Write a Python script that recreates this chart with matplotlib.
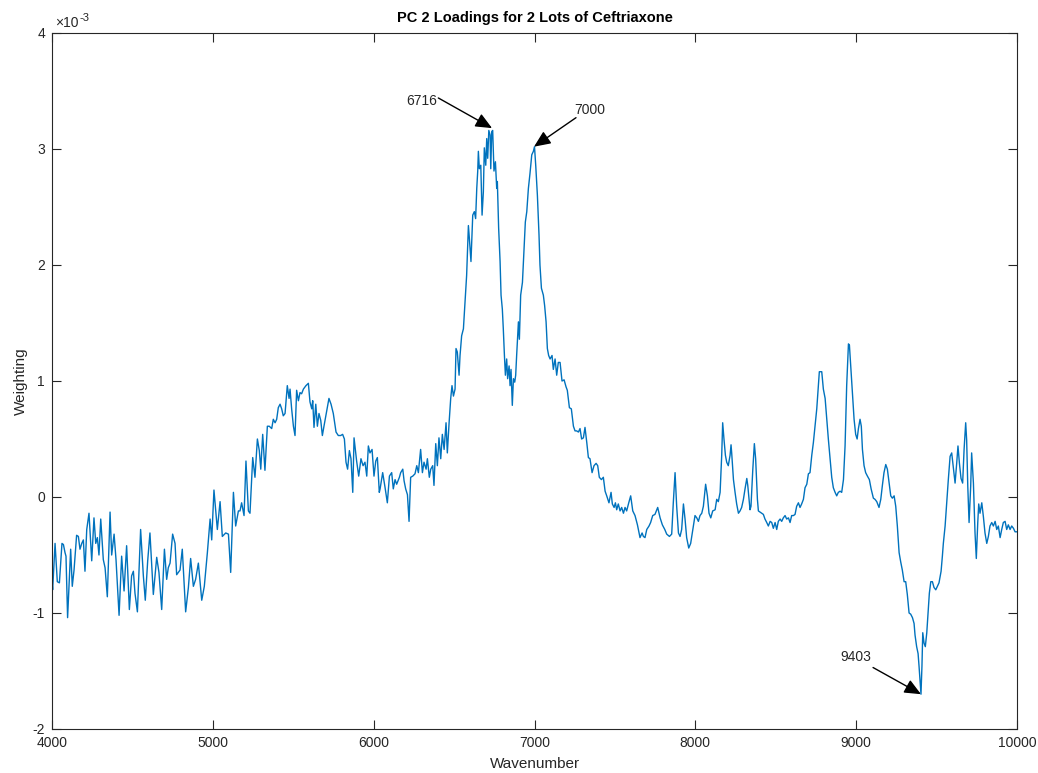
import matplotlib
matplotlib.use("Agg")
import matplotlib.pyplot as plt
import numpy as np

plt.rcParams['font.family'] = ['Liberation Sans', 'DejaVu Sans']
plt.rcParams['axes.unicode_minus'] = False

# ---- data (weighting in units of 1e-3) ----
wavenumber = [
    4000, 4004, 4019, 4033, 4046, 4062, 4071, 4081, 4087, 4097, 4116, 4126, 4137, 4153, 4164, 4174,
    4185, 4195, 4205, 4216, 4230, 4247, 4261, 4272, 4282, 4292, 4303, 4319, 4330, 4344, 4361, 4371,
    4386, 4398, 4417, 4433, 4448, 4464, 4481, 4495, 4506, 4516, 4531, 4551, 4568, 4580, 4595, 4609,
    4630, 4651, 4665, 4682, 4699, 4713, 4723, 4734, 4750, 4765, 4775, 4796, 4810, 4831, 4848, 4862,
    4879, 4893, 4910, 4931, 4947, 4966, 4983, 4993, 5007, 5028, 5045, 5059, 5080, 5097, 5111, 5128,
    5142, 5159,
    5169, 5179, 5194, 5206, 5221, 5231, 5248, 5262, 5277, 5289, 5298, 5310, 5324, 5339, 5351, 5366,
    5376, 5387, 5397, 5407, 5418, 5428, 5438, 5449, 5463, 5474, 5480, 5490, 5501, 5511, 5521, 5532,
    5542, 5552, 5563, 5579, 5594, 5604, 5615, 5621, 5629, 5640, 5650, 5660, 5671, 5681, 5691, 5708,
    5722, 5735, 5749, 5766, 5780, 5795, 5807, 5818, 5828, 5838, 5849, 5859, 5870, 5878, 5886, 5894,
    5907, 5921, 5934, 5946, 5957, 5967, 5977, 5990, 6002, 6013, 6023, 6035,
    6040, 6056, 6071, 6085, 6098, 6112, 6122, 6133, 6143, 6160, 6168, 6181, 6189, 6199, 6210, 6220,
    6230, 6243, 6257, 6268, 6278, 6292, 6303, 6313, 6326, 6334, 6346, 6355, 6367, 6375, 6386, 6396,
    6406, 6417, 6427, 6438, 6450, 6458, 6469, 6479, 6487, 6496, 6506, 6512, 6520, 6531, 6537, 6547,
    6558, 6568, 6578, 6589, 6595, 6605, 6616, 6626, 6634, 6641, 6647, 6651, 6657, 6666, 6674, 6682,
    6688, 6697, 6703, 6709, 6716, 6724, 6728, 6734, 6740, 6748, 6757, 6765, 6769, 6777, 6786, 6792,
    6800, 6806, 6813, 6819, 6827, 6833, 6842, 6848, 6854, 6862, 6869, 6877, 6883, 6889, 6900, 6906,
    6914, 6925, 6935, 6943, 6952, 6962, 6972, 6983, 6993, 7000, 7008, 7018, 7028, 7034, 7043, 7055,
    7063, 7072, 7080, 7088, 7097, 7109, 7117, 7128, 7138, 7148, 7159,
    7171, 7184, 7196, 7204, 7217, 7229, 7242, 7252, 7262, 7273, 7283, 7293, 7304, 7314, 7325, 7335,
    7345, 7358, 7370, 7383, 7393, 7403, 7416, 7428, 7439, 7449, 7463, 7476, 7484, 7495, 7503, 7511,
    7521, 7532, 7542, 7553, 7563, 7573, 7586, 7598, 7611, 7625, 7640, 7656, 7669, 7677, 7687, 7698,
    7712, 7722, 7735, 7749, 7766, 7781, 7795, 7810, 7822, 7839, 7853, 7863, 7874, 7884, 7895, 7905,
    7915, 7926, 7936, 7946, 7959, 7971, 7988, 7998, 8009, 8019, 8029, 8040, 8050, 8064, 8075, 8085,
    8096, 8108, 8123, 8133, 8143, 8154, 8164, 8170, 8178, 8187, 8195, 8205, 8216, 8222,
    8226, 8237, 8247, 8257, 8268, 8278, 8288, 8299, 8309, 8320, 8326, 8334, 8340, 8346, 8357, 8367,
    8375, 8386, 8392, 8402, 8413, 8423, 8433, 8444, 8454, 8465, 8475, 8485, 8496, 8506, 8516, 8527,
    8537, 8547, 8558, 8568, 8579, 8589, 8599, 8610, 8620, 8630, 8641, 8651, 8661, 8672, 8682, 8693,
    8703, 8713, 8724, 8734, 8744, 8755, 8765, 8771, 8786, 8796, 8807, 8817, 8827, 8838, 8848, 8858,
    8869, 8879, 8889, 8900, 8910, 8921, 8931, 8941, 8952, 8958, 8966, 8977, 8987, 8997, 9006, 9014,
    9024, 9032, 9039, 9049, 9059, 9070, 9082, 9093, 9107, 9117, 9128, 9142, 9153, 9163, 9173, 9184,
    9194, 9205, 9215, 9225, 9236, 9246, 9256, 9267,
    9277, 9287, 9298, 9308, 9318, 9329, 9339, 9350, 9360, 9366, 9376, 9385, 9391, 9403, 9409, 9414,
    9422, 9430, 9439, 9447, 9455, 9464, 9474, 9484, 9495, 9505, 9515, 9528, 9536, 9542, 9553, 9563,
    9573, 9584, 9594, 9604, 9615, 9625, 9633, 9642, 9652, 9662, 9671, 9681, 9687, 9694, 9702, 9712,
    9718, 9729, 9739, 9747, 9756, 9762, 9770, 9781, 9791, 9801, 9812, 9822, 9832, 9843, 9853, 9864,
    9874, 9884, 9895, 9905, 9915, 9926, 9936, 9946, 9957, 9967, 9978, 9988, 10000,
]
weighting = [
    -0.73, -0.80, -0.40, -0.73, -0.74, -0.40, -0.41, -0.48, -0.51, -1.04, -0.45, -0.77, -0.63, -0.33, -0.34, -0.45,
    -0.40, -0.37, -0.64, -0.28, -0.14, -0.55, -0.18, -0.40, -0.35, -0.50, -0.19, -0.54, -0.61, -0.86, -0.13, -0.50,
    -0.32, -0.54, -1.02, -0.51, -0.81, -0.42, -0.97, -0.68, -0.64, -0.83, -0.99, -0.28, -0.68, -0.89, -0.55, -0.31,
    -0.84, -0.52, -0.65, -0.97, -0.45, -0.71, -0.61, -0.57, -0.32, -0.40, -0.67, -0.63, -0.45, -0.99, -0.78, -0.53,
    -0.77, -0.71, -0.57, -0.89, -0.77, -0.48, -0.19, -0.37, 0.06, -0.28, -0.04, -0.34, -0.31, -0.32, -0.65, 0.04,
    -0.25, -0.12,
    -0.12, -0.05, -0.16, 0.31, -0.12, -0.14, 0.34, 0.17, 0.50, 0.40, 0.24, 0.54, 0.23, 0.61, 0.61, 0.59,
    0.67, 0.64, 0.67, 0.77, 0.80, 0.76, 0.70, 0.72, 0.96, 0.85, 0.93, 0.76, 0.61, 0.53, 0.92, 0.83,
    0.90, 0.89, 0.93, 0.96, 0.98, 0.82, 0.76, 0.83, 0.60, 0.80, 0.61, 0.72, 0.66, 0.53, 0.61, 0.74,
    0.85, 0.80, 0.72, 0.56, 0.53, 0.53, 0.54, 0.50, 0.30, 0.24, 0.40, 0.33, 0.04, 0.51, 0.41, 0.31,
    0.18, 0.33, 0.27, 0.30, 0.18, 0.44, 0.38, 0.41, 0.18, 0.31, 0.34, 0.04,
    0.07, 0.21, 0.08, -0.05, 0.18, 0.21, 0.07, 0.15, 0.11, 0.17, 0.21, 0.24, 0.14, 0.07, 0.02, -0.21,
    0.17, 0.18, 0.20, 0.27, 0.21, 0.41, 0.21, 0.30, 0.24, 0.33, 0.17, 0.24, 0.27, 0.10, 0.46, 0.27,
    0.51, 0.33, 0.54, 0.41, 0.64, 0.38, 0.64, 0.85, 0.96, 0.87, 0.93, 1.28, 1.25, 1.05, 1.22, 1.39,
    1.45, 1.68, 1.91, 2.34, 2.23, 2.03, 2.43, 2.46, 2.40, 2.66, 2.81, 2.98, 2.83, 2.86, 2.43, 2.63,
    3.01, 2.86, 3.09, 2.92, 3.16, 3.12, 2.83, 3.15, 3.16, 2.81, 2.89, 2.66, 2.72, 2.32, 2.03, 1.74,
    1.62, 1.45, 1.22, 1.05, 1.19, 1.02, 1.13, 0.96, 1.10, 0.79, 1.02, 0.99, 1.05, 1.22, 1.51, 1.36,
    1.74, 1.85, 2.14, 2.37, 2.46, 2.66, 2.79, 2.95, 2.98, 3.02, 2.85, 2.60, 2.26, 2.00, 1.80, 1.74,
    1.65, 1.51, 1.28, 1.22, 1.19, 1.22, 1.10, 1.19, 1.05, 1.16, 1.16,
    1.00, 1.01, 0.95, 0.92, 0.77, 0.76, 0.61, 0.57, 0.57, 0.56, 0.59, 0.50, 0.51, 0.60, 0.47, 0.34,
    0.33, 0.21, 0.27, 0.29, 0.27, 0.17, 0.15, 0.17, 0.05, 0.01, -0.05, 0.04, -0.06, -0.09, -0.05, -0.11,
    -0.06, -0.12, -0.09, -0.14, -0.09, -0.12, -0.05, 0.01, -0.12, -0.16, -0.24, -0.35, -0.31, -0.34, -0.35, -0.28,
    -0.25, -0.22, -0.16, -0.15, -0.09, -0.18, -0.24, -0.28, -0.32, -0.34, -0.32, -0.05, 0.21, -0.08, -0.31, -0.34,
    -0.28, -0.06, -0.19, -0.35, -0.44, -0.40, -0.25, -0.16, -0.18, -0.21, -0.16, -0.14, -0.08, 0.11, 0.01, -0.14,
    -0.18, -0.12, -0.11, -0.02, -0.04, 0.04, 0.36, 0.64, 0.50, 0.36, 0.30, 0.27, 0.36, 0.45,
    0.38, 0.15, 0.04, -0.06, -0.14, -0.12, -0.09, -0.02, 0.07, 0.16, 0.10, -0.02, -0.11, -0.08, 0.23, 0.46,
    0.33, -0.02, -0.12, -0.13, -0.14, -0.15, -0.19, -0.22, -0.25, -0.21, -0.22, -0.27, -0.22, -0.28, -0.21, -0.19,
    -0.21, -0.18, -0.16, -0.19, -0.18, -0.22, -0.16, -0.16, -0.15, -0.08, -0.05, -0.09, -0.06, -0.02, 0.08, 0.11,
    0.20, 0.21, 0.36, 0.47, 0.61, 0.76, 0.96, 1.08, 1.08, 0.93, 0.85, 0.67, 0.50, 0.33, 0.17, 0.08,
    0.04, 0.01, 0.04, 0.05, 0.04, 0.15, 0.44, 0.96, 1.32, 1.31, 1.13, 0.87, 0.67, 0.54, 0.50, 0.59,
    0.67, 0.61, 0.41, 0.27, 0.21, 0.18, 0.15, 0.07, -0.01, -0.02, -0.04, -0.09, -0.02, 0.10, 0.21, 0.28,
    0.24, 0.12, 0.01, -0.01, 0.01, -0.08, -0.25, -0.48,
    -0.56, -0.63, -0.73, -0.73, -0.84, -1.00, -1.01, -1.04, -1.09, -1.19, -1.29, -1.35, -1.46, -1.70, -1.46, -1.17,
    -1.26, -1.29, -1.17, -1.00, -0.83, -0.73, -0.73, -0.78, -0.80, -0.77, -0.74, -0.64, -0.51, -0.40, -0.25, -0.05,
    0.15, 0.35, 0.38, 0.26, 0.12, 0.29, 0.44, 0.29, 0.16, 0.12, 0.41, 0.64, 0.49, 0.09, -0.22, 0.09,
    0.38, 0.12, -0.31, -0.53, -0.22, -0.06, -0.14, -0.05, -0.17, -0.31, -0.40, -0.34, -0.25, -0.22, -0.25, -0.21,
    -0.28, -0.25, -0.35, -0.28, -0.22, -0.21, -0.28, -0.24, -0.28, -0.25, -0.27, -0.30, -0.30,
]

x_ticks = [4000, 5000, 6000, 7000, 8000, 9000, 10000]
y_ticks = [-2, -1, 0, 1, 2, 3, 4]

# annotations: label, arrow tip (x, y), arrow tail (x, y), text position (x, y)
ann_labels = ["6716", "7000", "9403"]
ann_tips = [(6736, 3.18), (6997, 3.02), (9403, -1.70)]
ann_tails = [(6402, 3.44), (7258, 3.27), (9105, -1.47)]
ann_text = [(6300, 3.41), (7345, 3.34), (8999, -1.38)]

title = "PC 2 Loadings for 2 Lots of Ceftriaxone"
xlabel = "Wavenumber"
ylabel = "Weighting"

fig = plt.figure(figsize=(10.38, 7.73), dpi=100)
ax = fig.add_axes([52/1038, 1 - 729/773, (1017-52)/1038, (729-33)/773])

ax.plot(wavenumber, weighting, color='#0072BD', lw=1.0)

ax.set_xlim(4000, 10000)
ax.set_ylim(-2, 4)
ax.set_xticks(x_ticks)
ax.set_yticks(y_ticks)
ax.set_xticklabels([str(t) for t in x_ticks])
ax.set_yticklabels([str(t) for t in y_ticks])

tc = '#262626'
for sp in ax.spines.values():
    sp.set_color(tc)
    sp.set_linewidth(0.8)
ax.tick_params(direction='in', length=6.5, width=0.8, colors=tc, labelsize=10,
               top=True, right=True, pad=5)

ax.set_title(title, fontsize=10.5, fontweight='bold', color='black', pad=8)
ax.set_xlabel(xlabel, fontsize=11, color=tc, labelpad=5)
ax.set_ylabel(ylabel, fontsize=11, color=tc, labelpad=3)

# exponent label (x10^-3) in MATLAB style, with ASCII hyphen
t_base = ax.text(0.003, 1.005, '\u00d710', transform=ax.transAxes,
                 fontsize=10, color=tc, ha='left', va='bottom')
ax.annotate('-3', xy=(1.0, 0.5), xycoords=t_base, xytext=(0.5, 0),
            textcoords='offset points', fontsize=8, color=tc,
            ha='left', va='bottom')

for lab, tip, tail, tp in zip(ann_labels, ann_tips, ann_tails, ann_text):
    ax.annotate('', xy=tip, xytext=tail,
                arrowprops=dict(arrowstyle='-|>,head_length=0.5,head_width=0.22',
                                color='black', lw=1.0,
                                mutation_scale=20, shrinkA=0, shrinkB=0))
    ax.text(tp[0], tp[1], lab, fontsize=10, color=tc, ha='center', va='center')

fig.savefig('out.png', dpi=100)
